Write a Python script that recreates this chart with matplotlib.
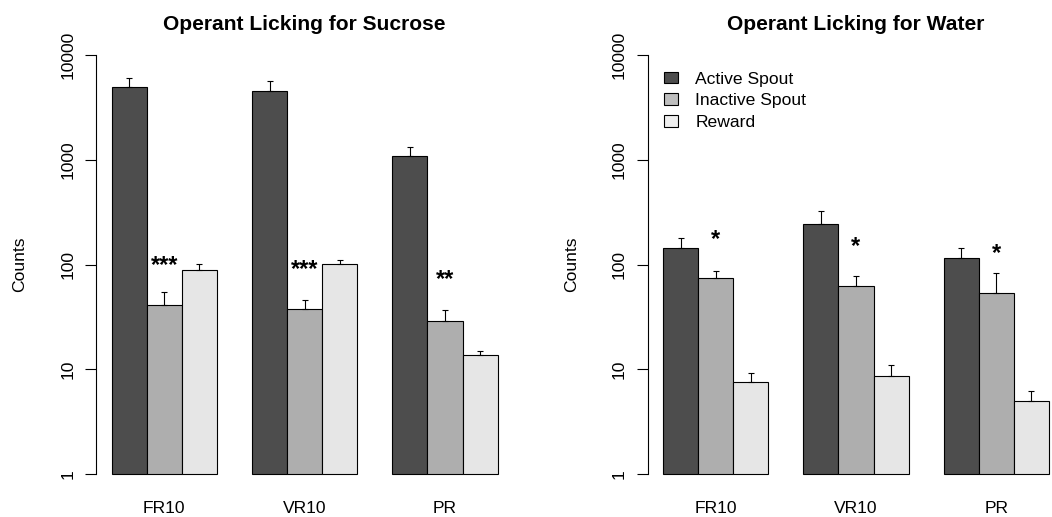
import numpy as np
import matplotlib
matplotlib.use("Agg")
import matplotlib.pyplot as plt
from matplotlib.patches import Patch

plt.rcParams['font.family'] = ['Liberation Sans', 'DejaVu Sans']

# ---- data ----
groups = ["FR10", "VR10", "PR"]
series = ["Active Spout", "Inactive Spout", "Reward"]

sucrose_active = [4920, 4560, 1086]
sucrose_inactive = [41.1, 37.8, 29.1]
sucrose_reward = [88.6, 100.4, 13.6]
sucrose_active_err = [1070, 1050, 238]
sucrose_inactive_err = [13.5, 7.7, 7.7]
sucrose_reward_err = [13.2, 10.6, 1.2]
sucrose_stars = ["***", "***", "**"]

water_active = [142.8, 242, 114.6]
water_inactive = [74.8, 62.3, 53.5]
water_reward = [7.56, 8.62, 5.01]
water_active_err = [37, 84, 28]
water_inactive_err = [11.3, 14.8, 30]
water_reward_err = [1.7, 2.3, 1.14]
water_stars = ["*", "*", "*"]

bar_colors = ["#4D4D4D", "#AEAEAE", "#E6E6E6"]
legend_colors = ["#4D4D4D", "#BEBEBE", "#EFEFEF"]

FS = 12.6
W, H = 1052, 517
fig = plt.figure(figsize=(W / 100, H / 100), dpi=100)

def px_to_fig(x0, x1, ytop, ybot):
    return [x0 / W, 1 - ybot / H, (x1 - x0) / W, (ybot - ytop) / H]

def panel(axpos, title, act, ina, rew, act_e, ina_e, rew_e, stars, star_y, ylab_x):
    ax = fig.add_axes(axpos)
    ax.set_yscale('log')
    vals = [act, ina, rew]
    errs = [act_e, ina_e, rew_e]
    for s in range(3):
        lefts = np.arange(3) * 4 + 1 + s
        v = np.array(vals[s], dtype=float)
        ax.bar(lefts, v - 1, bottom=1, width=1, align='edge',
               color=bar_colors[s], edgecolor='black', linewidth=0.8, zorder=2)
        e = np.array(errs[s], dtype=float)
        ax.errorbar(lefts + 0.5, v, yerr=[np.zeros_like(e), e], fmt='none',
                    ecolor='black', elinewidth=0.8, capsize=2.0, capthick=0.8, zorder=3)
    for g in range(3):
        ax.text(g * 4 + 2.5, star_y[g], stars[g], ha='center', va='center',
                fontsize=17, fontweight='bold', zorder=4)
    ax.set_xlim(0.56, 12.44)
    ax.set_ylim(10 ** -0.16, 10 ** 4.16)
    for sp in ['top', 'right', 'bottom']:
        ax.spines[sp].set_visible(False)
    ax.spines['left'].set_bounds(1, 10000)
    ax.spines['left'].set_linewidth(0.8)
    ax.set_yticks([1, 10, 100, 1000, 10000])
    ax.set_yticklabels(["1", "10", "100", "1000", "10000"], rotation=90,
                       va='center', fontsize=FS)
    ax.yaxis.set_minor_locator(matplotlib.ticker.NullLocator())
    ax.tick_params(axis='y', length=7.7, width=0.8, pad=7.5)
    ax.set_xticks([2.5, 6.5, 10.5])
    ax.set_xticklabels(groups, fontsize=FS)
    ax.tick_params(axis='x', length=0, pad=7)
    ax.text(0.5, 1.018, title, transform=ax.transAxes, ha='center',
            va='baseline', fontsize=15.1, fontweight='bold')
    fig.text(ylab_x / W, 1 - 264.5 / H, "Counts", rotation=90, ha='center',
             va='center', fontsize=FS)
    ax.set_facecolor('none')
    return ax

ax1 = panel(px_to_fig(96.3, 513.1, 38.2, 490.8), "Operant Licking for Sucrose",
            sucrose_active, sucrose_inactive, sucrose_reward,
            sucrose_active_err, sucrose_inactive_err, sucrose_reward_err,
            sucrose_stars, [97, 90, 72], 20)
ax2 = panel(px_to_fig(647.6, 1064.4, 38.2, 490.8), "Operant Licking for Water",
            water_active, water_inactive, water_reward,
            water_active_err, water_inactive_err, water_reward_err,
            water_stars, [175, 150, 128], 571.5)

handles = [Patch(facecolor=c, edgecolor='black', linewidth=0.8) for c in legend_colors]
leg = ax2.legend(handles, series, loc='upper left',
                 bbox_to_anchor=(664 / W, 1 - 71.5 / H), bbox_transform=fig.transFigure,
                 frameon=False, fontsize=FS, borderpad=0, borderaxespad=0,
                 handlelength=0.78, handleheight=0.66, handletextpad=1.0,
                 labelspacing=0.38)

fig.savefig("out.png", dpi=100)
